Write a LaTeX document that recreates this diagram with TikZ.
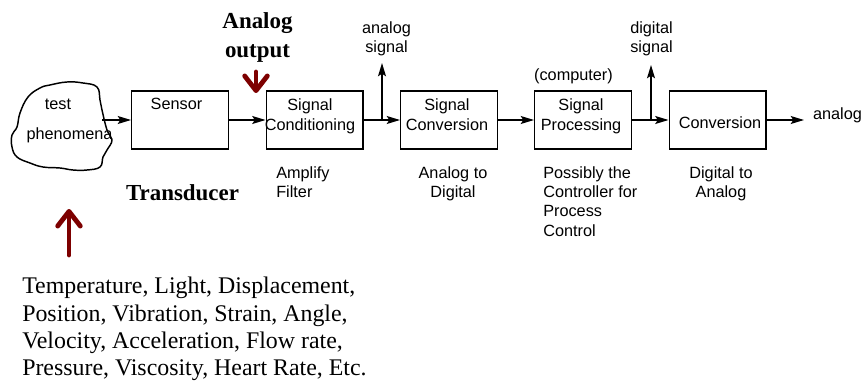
\documentclass[tikz,border=0pt]{standalone}
\usepackage{fontspec}
\setmainfont{Liberation Serif}
\setsansfont{Liberation Sans}
\usetikzlibrary{arrows.meta}
\definecolor{darkred}{RGB}{125,0,0}
\begin{document}
\begin{tikzpicture}[x=0.75pt,y=-0.75pt,
  box/.style={draw,line width=1.1pt,minimum width=72.4pt,minimum height=43.5pt,inner sep=0pt},
  lbl/.style={font=\sffamily\fontsize{12.2pt}{15.3pt}\selectfont,inner sep=0pt},
  sublbl/.style={font=\sffamily\fontsize{12.2pt}{14.6pt}\selectfont,inner sep=0pt},
  flow/.style={line width=1pt,-{Stealth[length=10pt,width=6pt,inset=2pt]}},
  bigarrow/.style={draw=darkred,line width=3.6pt,line cap=round,-{Straight Barb[length=11pt,width=17pt,round]}},
  bold/.style={font=\bfseries\fontsize{17.2pt}{21.3pt}\selectfont,inner sep=0pt}
]
\fill[white] (0,0) rectangle (866,381);
\useasboundingbox (0,0) rectangle (866,381);

% cloud
\draw[line width=1.1pt] plot[smooth cycle, tension=0.7] coordinates {
 (12,135) (17,127) (20,113) (28,97) (40,88) (50,85) (67,82) (83,83) (97,87)
 (100,100) (102,110) (107,130) (112,140) (107,150) (103,157) (100,167)
 (87,170) (73,170) (60,168) (43,167) (30,163) (17,157) (12,147)};
\node[lbl,anchor=base] (ttest) at (58,110) {test};
\node[lbl,anchor=base] (tphen) at (69.5,140) {phenomena};

% boxes
\node[box] (sensor) at (180,120) {};
\node[box] (cond) at (314.5,120) {};
\node[box] (conv) at (449,120) {};
\node[box] (proc) at (583,120) {};
\node[box] (dac) at (717.5,120) {};

\node[lbl,anchor=base] (tsensor) at (176.5,110) {Sensor};
\node[lbl,anchor=north,align=center] (tcond) at (310,98) {Signal\\Conditioning};
\node[lbl,anchor=north,align=center] (tconv) at (447,98) {Signal\\Conversion};
\node[lbl,anchor=base] (tcomp) at (573.5,81) {(computer)};
\node[lbl,anchor=north,align=center] (tproc) at (581,98) {Signal\\Processing};
\node[lbl,anchor=base] (tdac) at (720,129) {Conversion};

\node[sublbl,anchor=north,align=center] (asig) at (386.5,21) {analog\\signal};
\node[sublbl,anchor=north,align=center] (dsig) at (651.5,21) {digital\\signal};
\node[lbl,anchor=base] (aout) at (837.5,120) {analog};

\node[sublbl,anchor=north west,align=left] (amp) at (276,166) {Amplify\\Filter};
\node[sublbl,anchor=north,align=center] (a2d) at (453,166) {Analog to\\Digital};
\node[sublbl,anchor=north west,align=left] (poss) at (543,166) {Possibly the\\Controller for\\Process\\Control};
\node[sublbl,anchor=north,align=center] (d2a) at (721,166) {Digital to\\Analog};

% serif texts
\node[bold,anchor=north,align=center] (aoutput) at (257.5,12.5) {Analog\\output};
\node[bold,anchor=base] (trans) at (182.5,200) {Transducer};
\node[font=\fontsize{17.9pt}{20.5pt}\selectfont,align=left,anchor=north west,inner sep=0pt] (list) at (22,277)
 {Temperature, Light, Displacement,\\Position, Vibration, Strain, Angle,\\Velocity, Acceleration, Flow rate,\\Pressure, Viscosity, Heart Rate, Etc.};

% connectors
\coordinate (cloudout) at (102,120);
\coordinate (b1) at (382,120);
\coordinate (b1top) at (382,63);
\coordinate (b2) at (651,120);
\coordinate (b2top) at (651,65);
\coordinate (outend) at (804,120);
\draw[flow] (cloudout) -- (sensor.west);
\draw[flow] (sensor.east) -- (cond.west);
\draw[flow] (cond.east) -- (conv.west);
\draw[flow] (b1) -- (b1top);
\draw[flow] (conv.east) -- (proc.west);
\draw[flow] (proc.east) -- (dac.west);
\draw[flow] (b2) -- (b2top);
\draw[flow] (dac.east) -- (outend);

% dark red arrows
\coordinate (upfrom) at (69,255);
\coordinate (upto) at (69,209);
\draw[bigarrow] (upfrom) -- (upto);
\coordinate (dnfrom) at (256,72);
\coordinate (dnto) at (256,93);
\draw[bigarrow] (dnfrom) -- (dnto);
\end{tikzpicture}
\end{document}
